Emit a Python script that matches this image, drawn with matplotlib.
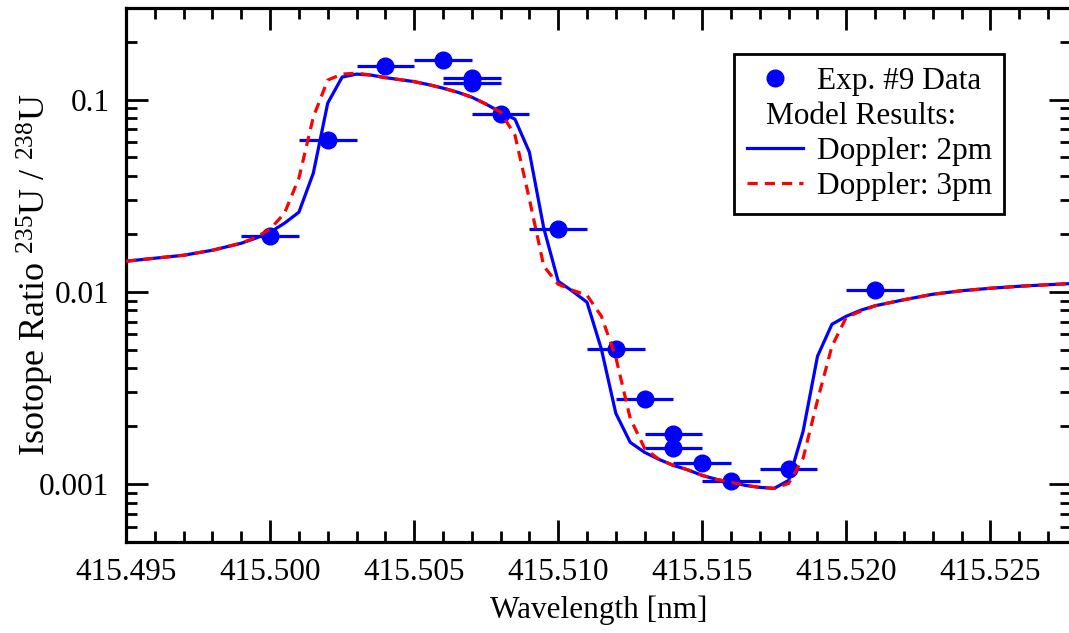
import matplotlib
matplotlib.use("Agg")
import matplotlib.pyplot as plt
from matplotlib.lines import Line2D
from matplotlib.ticker import MultipleLocator, FormatStrFormatter, LogLocator, NullFormatter

plt.rcParams["font.family"] = ["Liberation Serif", "DejaVu Serif"]
plt.rcParams["mathtext.fontset"] = "custom"
plt.rcParams["mathtext.rm"] = "Liberation Serif"
plt.rcParams["mathtext.it"] = "Liberation Serif:italic"
plt.rcParams["font.size"] = 22.5

# Exp. #9 data (wavelength, ratio, wavelength uncertainty)
exp_wl = [415.500, 415.502, 415.504, 415.506, 415.507, 415.507, 415.508, 415.510,
          415.512, 415.513, 415.514, 415.514, 415.515, 415.516, 415.518, 415.521]
exp_ratio = [0.01946, 0.0615, 0.1494, 0.1606, 0.1294, 0.1219, 0.0840, 0.02116,
             0.00502, 0.00277, 0.00182, 0.00154, 0.00128, 0.00103, 0.00120, 0.01018]
exp_wl_err = [0.001] * 16

# model grid
model_wl = [415.495, 415.496, 415.497, 415.498, 415.499, 415.4995, 415.500, 415.5005,
            415.501, 415.5015, 415.502, 415.5025, 415.503, 415.5035, 415.504, 415.5045,
            415.505, 415.5055, 415.506, 415.5065, 415.507, 415.5075, 415.508, 415.5085,
            415.509, 415.5095, 415.510, 415.5105, 415.511, 415.5115, 415.512, 415.5125,
            415.513, 415.5135, 415.514, 415.5145, 415.515, 415.5155, 415.516, 415.5165,
            415.517, 415.5175, 415.518, 415.5185, 415.519, 415.5195, 415.520, 415.5205,
            415.521, 415.522, 415.523, 415.524, 415.525, 415.526, 415.527, 415.528]

# Doppler 2pm
dop2 = [0.01442, 0.01495, 0.01549, 0.01645, 0.01789, 0.01900, 0.02041, 0.02274,
        0.02595, 0.04143, 0.0959, 0.1310, 0.1358, 0.1342, 0.1302, 0.1271,
        0.1241, 0.1197, 0.1148, 0.1094, 0.1030, 0.0947, 0.0861, 0.0791,
        0.0533, 0.02141, 0.01134, 0.01006, 0.00882, 0.00502, 0.00233, 0.001645,
        0.001459, 0.001341, 0.001248, 0.001183, 0.001107, 0.001055, 0.001018, 0.000982,
        0.000959, 0.000948, 0.001043, 0.001877, 0.004614, 0.006772, 0.007457, 0.008013,
        0.008456, 0.009085, 0.009705, 0.01012, 0.01043, 0.01068, 0.01088, 0.01107]

# Doppler 3pm
dop3 = [0.01442, 0.01495, 0.01549, 0.01645, 0.01789, 0.01920, 0.02116, 0.02564,
        0.03901, 0.0811, 0.1264, 0.1358, 0.1374, 0.1342, 0.1302, 0.1271,
        0.1241, 0.1197, 0.1148, 0.1094, 0.1030, 0.0947, 0.0861, 0.0653,
        0.03033, 0.01358, 0.01094, 0.01018, 0.00959, 0.007457, 0.004559, 0.002194,
        0.001530, 0.001341, 0.001248, 0.001183, 0.001107, 0.001055, 0.001018, 0.000982,
        0.000959, 0.000948, 0.001006, 0.001358, 0.002722, 0.005202, 0.007368, 0.007917,
        0.008456, 0.009085, 0.009705, 0.01012, 0.01043, 0.01068, 0.01088, 0.01107]

fig = plt.figure(figsize=(10.69, 6.33), dpi=100)
# right spine sits just past the image edge, like the original
ax = fig.add_axes([0.1179, 0.1442, 0.8840, 0.8432])

ax.errorbar(exp_wl, exp_ratio, xerr=exp_wl_err, fmt="o", color="blue", ms=12,
            elinewidth=2.3, capsize=0, zorder=2)
ax.plot(model_wl, dop2, color="blue", lw=2.3, zorder=3)
ax.plot(model_wl, dop3, color="red", lw=2.3, ls=(0, (3.2, 2.2)), zorder=4)

ax.set_yscale("log")
ax.set_xlim(415.495, 415.5278)
ax.set_ylim(0.0005, 0.3)

ax.xaxis.set_major_locator(MultipleLocator(0.005))
ax.xaxis.set_minor_locator(MultipleLocator(0.001))
ax.xaxis.set_major_formatter(FormatStrFormatter("%.3f"))
ax.set_yticks([0.001, 0.01, 0.1])
ax.set_yticklabels(["0.001", "0.01", "0.1"])
ax.yaxis.set_minor_locator(LogLocator(base=10, subs=range(2, 10)))
ax.yaxis.set_minor_formatter(NullFormatter())

ax.tick_params(which="both", direction="in", top=True, right=True, width=2)
ax.tick_params(which="major", length=16)
ax.tick_params(which="minor", length=8)
ax.tick_params(axis="x", pad=12)
ax.tick_params(axis="y", pad=12)
for s in ax.spines.values():
    s.set_linewidth(2.3)

ax.set_xlabel("Wavelength [nm]", labelpad=6)
ax.set_ylabel("Isotope Ratio $^{235}$U / $^{238}$U", fontsize=26)
ax.yaxis.set_label_coords(-0.074, 0.5)

# legend
handles = [Line2D([], [], marker="o", ls="none", color="blue", ms=12),
           Line2D([], [], ls="none"),
           Line2D([], [], color="blue", lw=2.3),
           Line2D([], [], color="red", lw=2.3, ls=(0, (3.2, 2.2)))]
labels = ["Exp. #9 Data", "Model Results:", "Doppler: 2pm", "Doppler: 3pm"]
leg = ax.legend(handles, labels, loc="upper left", bbox_to_anchor=(734 / 1069, 1 - 54 / 633),
                bbox_transform=fig.transFigure, frameon=True, fancybox=False,
                edgecolor="black", handlelength=1.8, handletextpad=0.45,
                labelspacing=0.2, borderpad=0.4, borderaxespad=0)
leg.get_frame().set_linewidth(2)
leg.get_frame().set_alpha(1)
# "Model Results:" has no handle, so its text starts further left
row = leg._legend_handle_box.get_children()[0].get_children()[1]
row.get_children()[0].width = 4

fig.savefig("out.png", dpi=100)
